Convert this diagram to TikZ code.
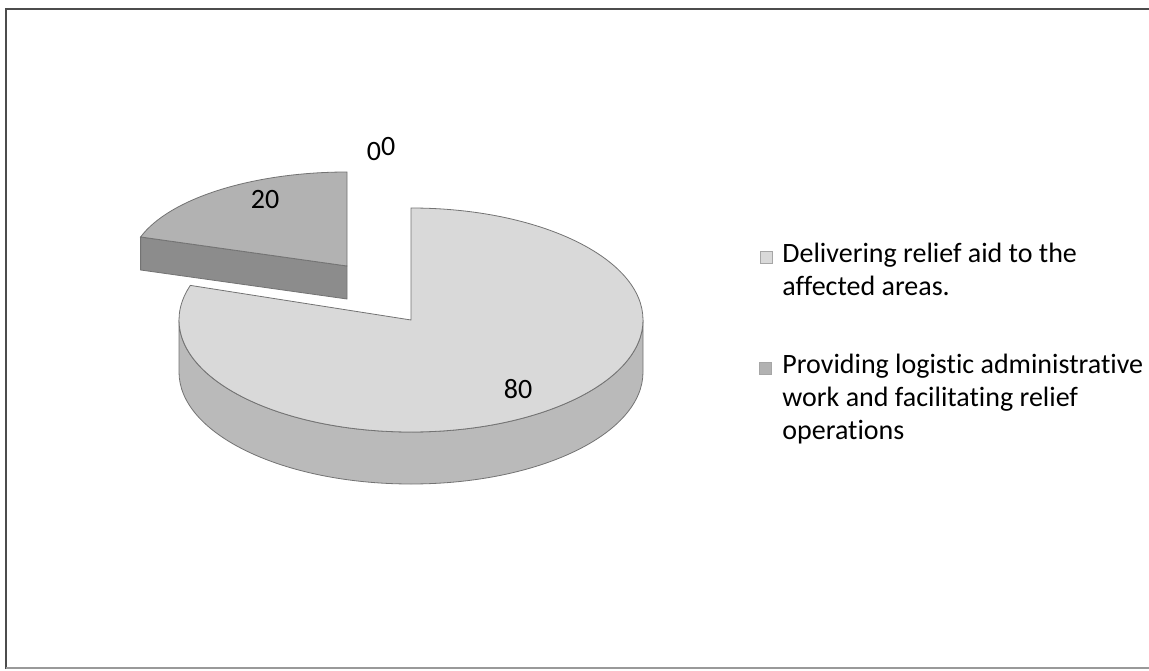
\documentclass[tikz,border=0pt]{standalone}
\usepackage{fontspec}
\setmainfont[Ligatures=NoCommon]{Carlito}
\usetikzlibrary{calc}

\definecolor{pielight}{gray}{0.85}
\definecolor{pielightside}{gray}{0.73}
\definecolor{piedark}{gray}{0.70}
\definecolor{piedarkside}{gray}{0.55}

\tikzstyle{frame} = [draw=black!70,line width=0.8pt]
\tikzstyle{face} = [draw=black!55,line width=0.4pt]
\tikzstyle{datalabel} = [font=\fontsize{14}{16.5}\selectfont,inner sep=0pt]
\tikzstyle{legendkey} = [draw=black!35,line width=0.3pt,minimum size=6pt,inner sep=0pt]
\tikzstyle{legendtext} = [font=\fontsize{14}{16.5}\selectfont,align=left,anchor=north west,inner sep=0pt]

\begin{document}
\begin{tikzpicture}[x=0.5pt,y=0.5pt]
	\useasboundingbox (0,0) rectangle (1149,670);
	\draw[frame] (6,1) -- (6,661) -- (1152,661);
	\draw[frame,black!40] (6,2) -- (1152,2);

	% exploded slice (20)
	\coordinate (s) at (347,404);
	\coordinate (sl) at (140.6,433);
	\fill[piedarkside,face] (sl) -- (s) -- ++(0,-33) -- ($(sl)+(0,-33)$) -- cycle;
	\fill[piedark,face] (s) -- (347,498) arc[start angle=90,end angle=162,x radius=217,y radius=94] -- cycle;

	% main pie (80)
	\coordinate (c) at (411,350);
	\fill[pielightside,face] (179,350) arc[start angle=180,end angle=360,x radius=232,y radius=112]
		-- ++(0,-52) arc[start angle=360,end angle=180,x radius=232,y radius=112] -- cycle;
	\fill[pielight,face] (c) -- (411,462) arc[start angle=90,end angle=-198,x radius=232,y radius=112] -- cycle;

	\node[datalabel] (l20) at (265,470) {20};
	\node[datalabel] (l80) at (518,281) {80};
	\node[datalabel] (l0) at (381,521) {0\raisebox{2.5pt}{0}};

	% legend
	\node[legendkey,fill=pielight] (k1) at (766.5,413) {};
	\node[legendtext] (t1) at (782,427) {Delivering relief aid to the\\affected areas.};
	\node[legendkey,fill=piedark] (k2) at (765,302) {};
	\node[legendtext] (t2) at (782,316) {Providing logistic administrative\\work and facilitating relief\\operations};
\end{tikzpicture}
\end{document}
